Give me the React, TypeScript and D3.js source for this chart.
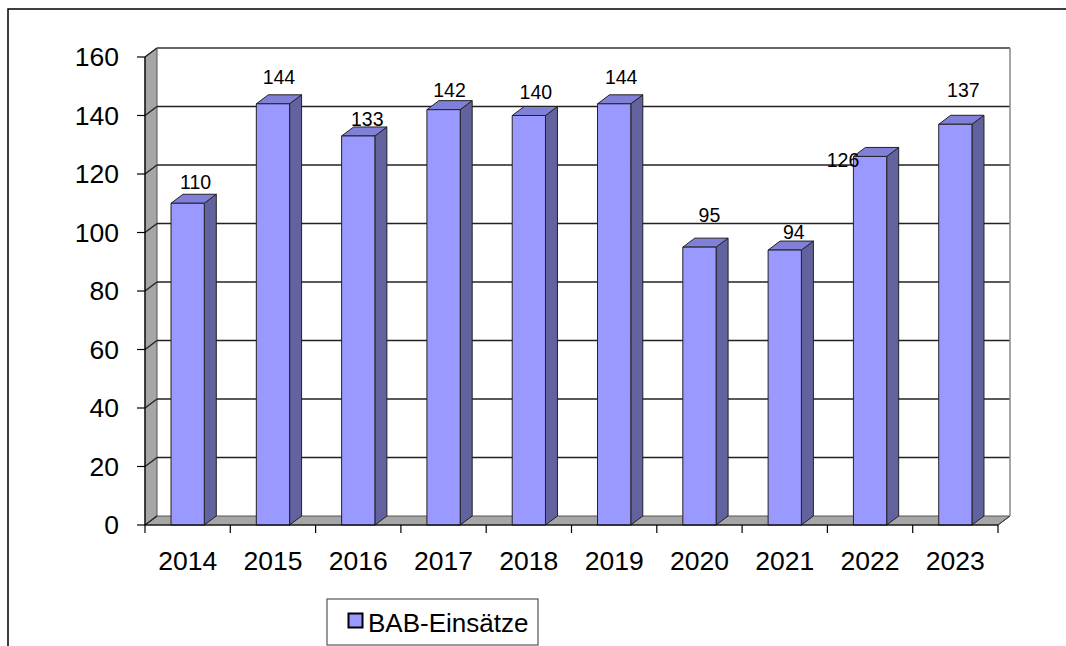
import React from "react";
import * as d3 from "d3";

const years = ["2014", "2015", "2016", "2017", "2018", "2019", "2020", "2021", "2022", "2023"];
const values = [110, 144, 133, 142, 140, 144, 95, 94, 126, 137];
const yTicks = [0, 20, 40, 60, 80, 100, 120, 140, 160];
const seriesName = "BAB-Einsätze";
// label nudges (dx, dy) relative to centre of bar top face
const labelDx = [2, 0, 3, 0, 1, 1, 4, 3, -33, 2];
const labelDy = [-17, -22, -12, -15, -19, -22, -28, -14, 8, -30];

const W = 1066;
const H = 646;
const DX = 12;
const DY = 9;
const FONT = "'Liberation Sans', Arial, sans-serif";

export default function App() {
  const x = d3.scaleBand<string>().domain(years).range([145, 998]).padding(0);
  const y = d3.scaleLinear().domain([0, 160]).range([525, 57]);
  const barW = x.bandwidth() * 0.39;
  const x0 = 145, x1 = 998;
  const y0 = y(0), yTop = y(160);

  const front = "#9999ff";
  const side = "#62629e";
  const top = "#8080d8";

  return (
    <svg width={W} height={H} style={{ position: "absolute", left: 0, top: 0, background: "#fff" }}
      fontFamily={FONT}>
      <rect x={0} y={0} width={W} height={H} fill="#fff" />
      {/* outer frame */}
      <rect x={8} y={9} width={W + 20} height={H + 20} fill="none" stroke="#000" strokeWidth={1.5} />

      {/* back wall */}
      <rect x={x0 + DX} y={yTop - DY} width={x1 - x0} height={y0 - yTop} fill="#fff" />
      {/* side wall */}
      <polygon
        points={`${x0},${yTop} ${x0 + DX},${yTop - DY} ${x0 + DX},${y0 - DY} ${x0},${y0}`}
        fill="#a6a6a6" stroke="#555" strokeWidth={1}
      />
      {/* floor */}
      <polygon
        points={`${x0},${y0} ${x0 + DX},${y0 - DY} ${x1 + DX},${y0 - DY} ${x1},${y0}`}
        fill="#a6a6a6" stroke="#555" strokeWidth={1}
      />
      {/* gridlines */}
      {yTicks.map((t) => (
        <g key={"g" + t}>
          {t > 0 && (
            <line x1={x0 + DX} x2={x1 + DX} y1={y(t) - DY} y2={y(t) - DY} stroke="#222" strokeWidth={1.4} />
          )}
          <line x1={x0} x2={x0 + DX} y1={y(t)} y2={y(t) - DY} stroke="#222" strokeWidth={1.4} />
        </g>
      ))}
      {/* back wall frame */}
      <line x1={x0 + DX} x2={x1 + DX} y1={yTop - DY} y2={yTop - DY} stroke="#666" strokeWidth={2} />
      <line x1={x1 + DX} x2={x1 + DX} y1={yTop - DY} y2={y0 - DY} stroke="#888" strokeWidth={1.5} />
      <line x1={x1} x2={x1 + DX} y1={y0} y2={y0 - DY} stroke="#333" strokeWidth={1} />

      {/* bars */}
      {years.map((yr, i) => {
        const cx = (x(yr) as number) + x.bandwidth() / 2;
        const bx = cx - barW / 2;
        const by = y(values[i]);
        return (
          <g key={yr} stroke="#222" strokeWidth={1} strokeLinejoin="round">
            <polygon
              points={`${bx + barW},${by} ${bx + barW + DX},${by - DY} ${bx + barW + DX},${y0 - DY} ${bx + barW},${y0}`}
              fill={side}
            />
            <polygon
              points={`${bx},${by} ${bx + DX},${by - DY} ${bx + barW + DX},${by - DY} ${bx + barW},${by}`}
              fill={top}
            />
            <rect x={bx} y={by} width={barW} height={y0 - by} fill={front} />
          </g>
        );
      })}

      {/* data labels */}
      {years.map((yr, i) => {
        const cx = (x(yr) as number) + x.bandwidth() / 2 + DX / 2;
        const cy = y(values[i]) - DY / 2;
        return (
          <text key={"l" + yr} x={cx + labelDx[i]} y={cy + labelDy[i]} textAnchor="middle"
            dominantBaseline="central" fontSize={19.5} fill="#000">
            {values[i]}
          </text>
        );
      })}

      {/* y axis */}
      <line x1={x0} x2={x0} y1={yTop} y2={y0} stroke="#000" strokeWidth={1.2} />
      {yTicks.map((t) => (
        <g key={"yt" + t}>
          <line x1={x0 - 8} x2={x0} y1={y(t)} y2={y(t)} stroke="#000" strokeWidth={1.2} />
          <text x={119} y={y(t)} textAnchor="end" dominantBaseline="central" fontSize={26.5} fill="#000">
            {t}
          </text>
        </g>
      ))}

      {/* x axis */}
      <line x1={x0} x2={x1} y1={y0} y2={y0} stroke="#000" strokeWidth={1.2} />
      {years.map((yr) => (
        <line key={"xt" + yr} x1={x(yr) as number} x2={x(yr) as number} y1={y0} y2={y0 + 8} stroke="#000" strokeWidth={1.2} />
      ))}
      <line x1={x1} x2={x1} y1={y0} y2={y0 + 8} stroke="#000" strokeWidth={1.2} />
      {years.map((yr) => (
        <text key={"xl" + yr} x={(x(yr) as number) + x.bandwidth() / 2} y={570} textAnchor="middle"
          fontSize={26.5} fill="#000">
          {yr}
        </text>
      ))}

      {/* legend */}
      <rect x={327} y={599} width={211} height={46} fill="#fff" stroke="#555" strokeWidth={1.2} />
      <rect x={348.5} y={613.5} width={14} height={14} fill={front} stroke="#000" strokeWidth={2} />
      <text x={368} y={632} fontSize={26} fill="#000">{seriesName}</text>
    </svg>
  );
}
